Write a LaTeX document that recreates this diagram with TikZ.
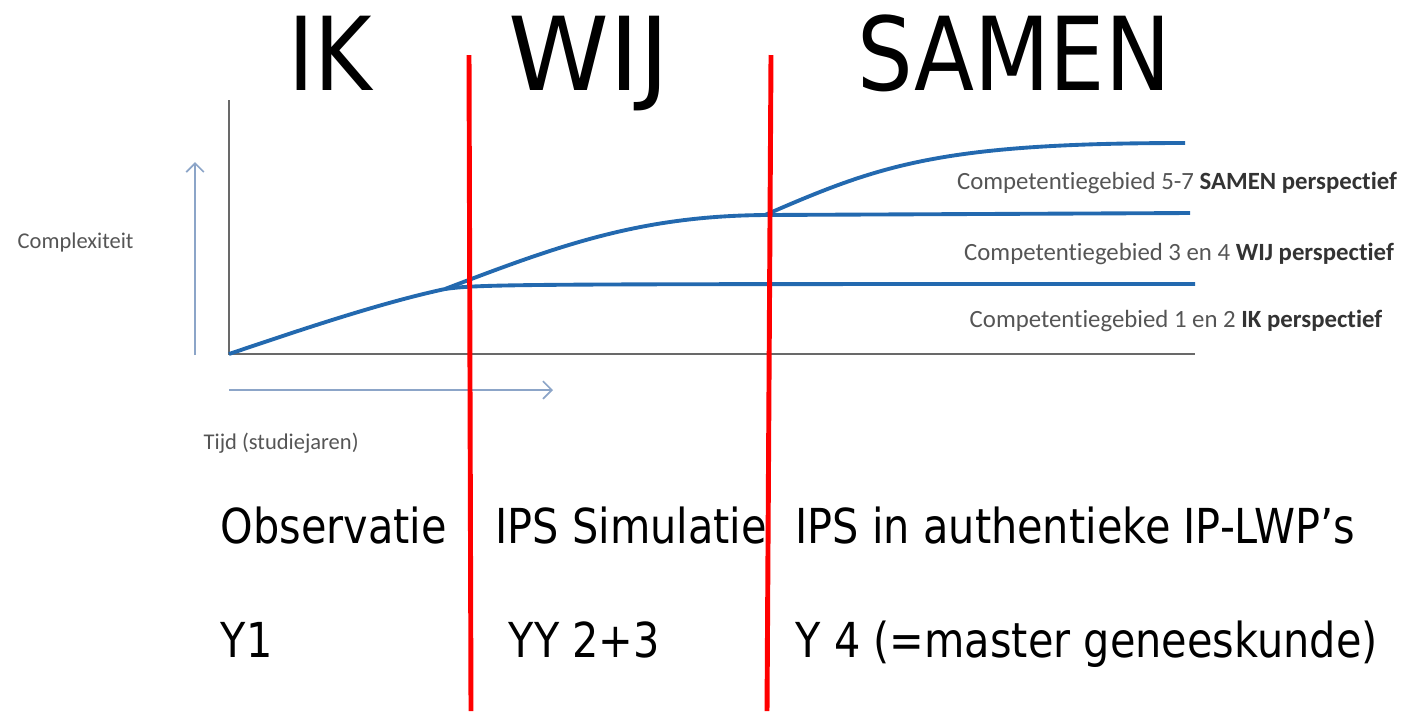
\documentclass[tikz,border=0pt]{standalone}
\usepackage{fontspec}
\setmainfont{Carlito}[Ligatures=NoCommon]
\newfontfamily\slidefont[FakeStretch=0.86]{DejaVu Sans}
\newfontfamily\widefont{DejaVu Sans}
\usepackage{xcolor}
\usetikzlibrary{arrows.meta}
\usetikzlibrary{positioning}
\definecolor{curveblue}{RGB}{35,105,175}
\definecolor{axisgray}{RGB}{105,105,105}
\definecolor{hintblue}{RGB}{140,165,200}
\definecolor{labelgray}{RGB}{85,85,85}
\tikzset{
  axis/.style={draw=axisgray,line width=0.8pt},
  hint/.style={draw=hintblue,line width=0.5pt,-{Straight Barb[length=2.5pt,width=5pt]}},
  curve/.style={draw=curveblue,line width=1.1pt},
  divider/.style={draw=red,line width=1.4pt},
}
\begin{document}
\begin{tikzpicture}[x=0.01cm,y=-0.01cm]
  \useasboundingbox (0,0) rectangle (1404,711);
  \coordinate (top) at (229,100);
  \coordinate (o) at (229,354);
  \coordinate (end) at (1195,354);
  \coordinate (ya) at (195,355);
  \coordinate (yb) at (195,162);
  \coordinate (xa) at (229,390);
  \coordinate (xb) at (553,390);
  \coordinate (s1) at (445,289);
  \coordinate (s2) at (765,215);
  \coordinate (ikend) at (1195,284);
  \coordinate (wijend) at (1190,213);
  \coordinate (samenend) at (1185,143);
  \coordinate (r1a) at (469,55);
  \coordinate (r1b) at (471,711);
  \coordinate (r2a) at (771,55);
  \coordinate (r2b) at (767,711);

  \draw[axis] (top) -- (o) -- (end);
  \draw[hint] (ya) -- (yb);
  \draw[hint] (xa) -- (xb);

  \draw[curve] (o) .. controls (300,330) and (380,303) .. (s1);
  \draw[curve] (s1) .. controls (480,284) and (520,284) .. (ikend);
  \draw[curve] (s1) .. controls (560,245) and (640,216) .. (s2) -- (wijend);
  \draw[curve] (s2) .. controls (880,165) and (940,143) .. (samenend);

  \begin{scope}[every node/.style={text=labelgray,font=\fontsize{6.4}{8}\selectfont,inner sep=0pt}]
    \node[anchor=base west] (cx) at (17,248) {Complexiteit};
    \node[anchor=base west] (td) at (203,449) {Tijd (studiejaren)};
  \end{scope}
  \begin{scope}[every node/.style={text=labelgray,font=\fontsize{7.05}{9}\selectfont,inner sep=0pt,anchor=base}]
    \node (l3) at (1177,189) {Competentiegebied 5-7 \textbf{\color{black!80}SAMEN perspectief}};
    \node (l2) at (1179,260) {Competentiegebied 3 en 4 \textbf{\color{black!80}WIJ perspectief}};
    \node (l1) at (1176,327) {Competentiegebied 1 en 2 \textbf{\color{black!80}IK perspectief}};
  \end{scope}

  \begin{scope}[every node/.style={font=\slidefont\fontsize{29}{32}\selectfont,inner sep=0pt,anchor=base}]
    \node (ik) at (330,90) {IK};
    \node[font=\widefont\fontsize{29}{32}\selectfont] (wij) at (589,90) {WIJ};
    \node (samen) at (1014,90) {SAMEN};
  \end{scope}

  \begin{scope}[every node/.style={font=\slidefont\fontsize{13.7}{16}\selectfont,inner sep=0pt,anchor=base west}]
    \node (obs) at (220,543) {Observatie};
    \node (sim) at (495,543) {IPS Simulatie};
    \node (auth) at (795,543) {IPS in authentieke IP-LWP’s};
    \node (y1) at (220,657) {Y1};
    \node (y23) at (508,657) {YY 2+3};
    \node (y4) at (795,657) {Y 4 (=master geneeskunde)};
  \end{scope}

  \draw[divider] (r1a) -- (r1b);
  \draw[divider] (r2a) -- (r2b);
\end{tikzpicture}
\end{document}
